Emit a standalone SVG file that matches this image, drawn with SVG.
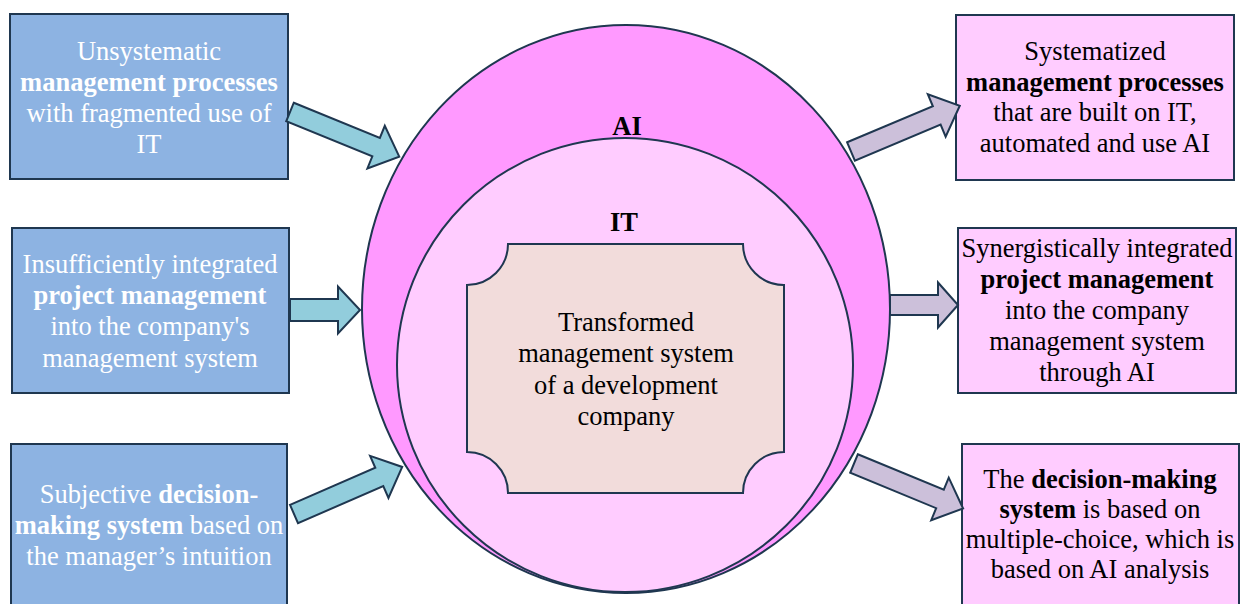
<svg xmlns="http://www.w3.org/2000/svg" xmlns:xlink="http://www.w3.org/1999/xlink" width="1241" height="604" viewBox="0 0 1241 604">
<style>
  .box-l { fill:#8DB3E2; stroke:#1F3750; stroke-width:2; }
  .box-r { fill:#FFCCFF; stroke:#1F3750; stroke-width:2; }
  .t { font-family:"Liberation Serif","Times New Roman",serif; font-size:26.5px; text-anchor:middle; }
  .tw { fill:#FFFFFF; }
  .tb { fill:#000000; }
  .b { font-weight:bold; }
  .arr-l { fill:#92CDDC; stroke:#1F3750; stroke-width:2; stroke-linejoin:miter; }
  .arr-r { fill:#CCC0DA; stroke:#1F3750; stroke-width:2; stroke-linejoin:miter; }
</style>
<defs>
  <polygon id="diag" points="0,-10 93,-10 93,-23 118,0 93,23 93,10 0,10"/>
  <polygon id="horzL" points="0,-11 48,-11 48,-23.5 70,0 48,23.5 48,11 0,11"/>
  <polygon id="horzR" points="0,-10 48,-10 48,-22.5 68,0 48,22.5 48,10 0,10"/>
</defs>

<g id="ai-circle">
  <ellipse cx="626" cy="309" rx="264" ry="284" fill="#FF99FF" stroke="#1F3750" stroke-width="2"/>
  <text class="t tb b" x="627" y="135">AI</text>
</g>
<g id="it-circle">
  <ellipse cx="625" cy="365" rx="228" ry="227" fill="#FFCCFF" stroke="#1F3750" stroke-width="2"/>
  <text class="t tb b" x="624" y="231">IT</text>
</g>
<g id="center">
  <path d="M508,244 H743 A41,41 0 0 0 784,285 V452 A41,41 0 0 0 743,493 H508 A41,41 0 0 0 467,452 V285 A41,41 0 0 0 508,244 Z" fill="#F2DCDB" stroke="#1F3750" stroke-width="2"/>
  <text class="t tb" x="626"><tspan x="626" y="331">Transformed</tspan><tspan x="626" y="362">management system</tspan><tspan x="626" y="394">of a development</tspan><tspan x="626" y="425">company</tspan></text>
</g>

<g id="left-1">
  <rect class="box-l" x="10" y="14" width="278" height="165"/>
  <text class="t tw"><tspan x="149" y="60">Unsystematic</tspan><tspan x="149" y="91" class="b">management processes</tspan><tspan x="149" y="122">with fragmented use of</tspan><tspan x="149" y="153">IT</tspan></text>
</g>
<g id="left-2">
  <rect class="box-l" x="12" y="228" width="277" height="165"/>
  <text class="t tw"><tspan x="150" y="273">Insufficiently integrated</tspan><tspan x="150" y="304" class="b">project management</tspan><tspan x="150" y="335">into the company's</tspan><tspan x="150" y="367">management system</tspan></text>
</g>
<g id="left-3">
  <rect class="box-l" x="11" y="444" width="276" height="180"/>
  <text class="t tw"><tspan x="149" y="503">Subjective <tspan class="b">decision-</tspan></tspan><tspan x="149" y="534"><tspan class="b">making system</tspan> based on</tspan><tspan x="149" y="565">the manager’s intuition</tspan></text>
</g>

<g id="right-1">
  <rect class="box-r" x="956" y="15" width="278" height="165"/>
  <text class="t tb"><tspan x="1095" y="60">Systematized</tspan><tspan x="1095" y="91" class="b">management processes</tspan><tspan x="1095" y="121">that are built on IT,</tspan><tspan x="1095" y="152">automated and use AI</tspan></text>
</g>
<g id="right-2">
  <rect class="box-r" x="958" y="228" width="278" height="165"/>
  <text class="t tb"><tspan x="1097" y="257">Synergistically integrated</tspan><tspan x="1097" y="288" class="b">project management</tspan><tspan x="1097" y="319">into the company</tspan><tspan x="1097" y="350">management system</tspan><tspan x="1097" y="381">through AI</tspan></text>
</g>
<g id="right-3">
  <rect class="box-r" x="962" y="444" width="277" height="180"/>
  <text class="t tb"><tspan x="1100" y="488">The <tspan class="b">decision-making</tspan></tspan><tspan x="1100" y="518"><tspan class="b">system</tspan> is based on</tspan><tspan x="1100" y="548">multiple-choice, which is</tspan><tspan x="1100" y="578">based on AI analysis</tspan></text>
</g>

<g id="connectors">
  <use xlink:href="#diag" class="arr-l" transform="translate(290,112) rotate(22.2)"/>
  <use xlink:href="#horzL" class="arr-l" transform="translate(290,310)"/>
  <use xlink:href="#diag" class="arr-l" transform="translate(294,514) rotate(-23.5)"/>
  <use xlink:href="#diag" class="arr-r" transform="translate(851,151.5) rotate(-22.8)"/>
  <use xlink:href="#horzR" class="arr-r" transform="translate(890,305)"/>
  <use xlink:href="#diag" class="arr-r" transform="translate(854,463.5) rotate(22.4)"/>
</g>
</svg>
